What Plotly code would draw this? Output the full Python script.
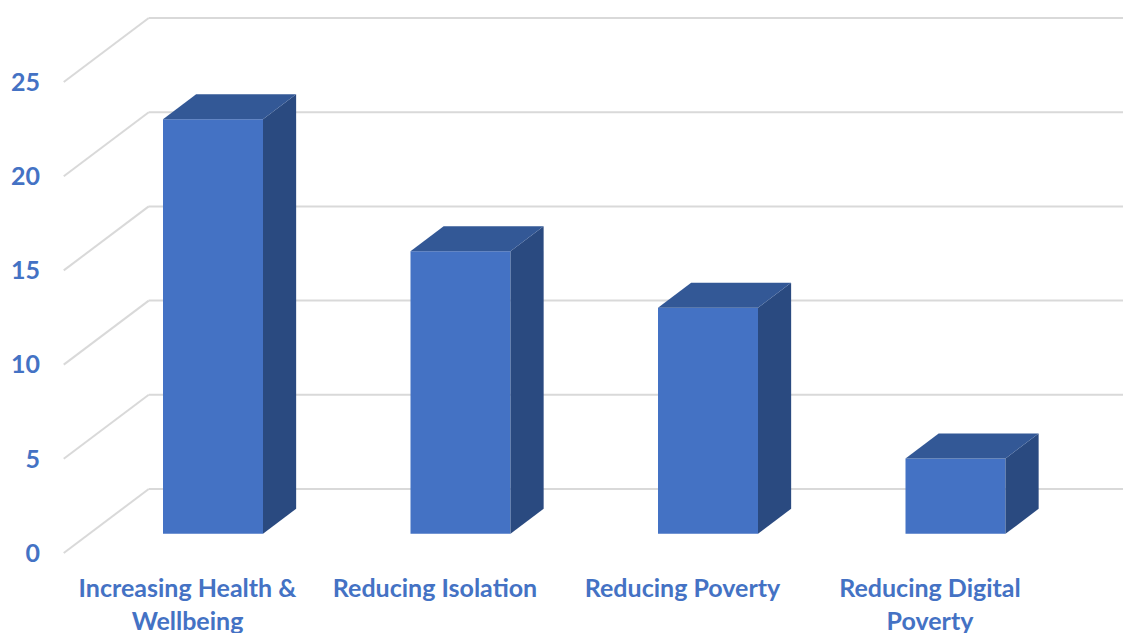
import plotly.graph_objects as go

# ---- data ----
categories = ["Increasing Health &<br>Wellbeing", "Reducing Isolation",
              "Reducing Poverty", "Reducing Digital<br>Poverty"]
values = [22, 15, 12, 4]
y_ticks = [0, 5, 10, 15, 20, 25]

# ---- styling / projection ----
OFF = 8                   # page body margin before the figure
W, H = 1131 - OFF, 633 - OFF
ML, MR, MT, MB = 33, 0, 0, 62
PX_PER_CAT = 247.5        # pixels per category
PX_PER_VAL = 18.84        # pixels per value unit
CAT0_PX = 187.5 - OFF     # front-plane pixel x of first category
ZERO_PX = 553.0 - OFF     # front-plane pixel y of value 0
DX = 85 / PX_PER_CAT      # full depth shift (x units)
DY = 64 / PX_PER_VAL      # full depth shift (value units)
D0, D1 = 0.30, 0.69       # bar front/back depth fraction
BW = 100 / PX_PER_CAT     # bar width

xr = [(ML - CAT0_PX) / PX_PER_CAT, (W - MR - CAT0_PX) / PX_PER_CAT]
yr = [(ZERO_PX - (H - MB)) / PX_PER_VAL, (ZERO_PX - MT) / PX_PER_VAL]

FRONT = "#4472C4"
TOP = "#335896"
SIDE = "#2A4A80"
GRID = "#D9D9D9"
TXT = "#4472C4"
FONT = dict(family="Lato", size=25, color=TXT, weight="bold")

fig = go.Figure()

# gridlines: side wall diagonals + back wall horizontals
x_left = -0.5
x_right = len(categories) - 0.5
shapes = []
for t in y_ticks:
    shapes.append(dict(type="line", xref="x", yref="y", layer="below",
                       x0=x_left, y0=t, x1=x_left + DX, y1=t + DY,
                       line=dict(color=GRID, width=2)))
    shapes.append(dict(type="line", xref="x", yref="y", layer="below",
                       x0=x_left + DX, y0=t + DY, x1=x_right + DX, y1=t + DY,
                       line=dict(color=GRID, width=2)))

# bars (front faces)
cx = [i + D0 * DX for i in range(len(values))]
fig.add_trace(go.Bar(x=cx, y=values, base=D0 * DY, width=BW,
                     marker=dict(color=FRONT, line=dict(width=0)),
                     hoverinfo="skip", showlegend=False))

# side and top faces
ddx = (D1 - D0) * DX
for c, v in zip(cx, values):
    xl, xr_ = c - BW / 2, c + BW / 2
    yb, yt = D0 * DY, v + D0 * DY
    fig.add_trace(go.Scatter(
        x=[xr_, xr_ + ddx, xr_ + ddx, xr_, xr_],
        y=[yb, D1 * DY, v + D1 * DY, yt, yb],
        fill="toself", fillcolor=SIDE, mode="lines", line=dict(width=0, color=SIDE),
        hoverinfo="skip", showlegend=False))
    fig.add_trace(go.Scatter(
        x=[xl, xr_, xr_ + ddx, xl + ddx, xl],
        y=[yt, yt, v + D1 * DY, v + D1 * DY, yt],
        fill="toself", fillcolor=TOP, mode="lines", line=dict(width=0, color=TOP),
        hoverinfo="skip", showlegend=False))

fig.update_layout(
    width=W, height=H,
    margin=dict(l=ML, r=MR, t=MT, b=MB, autoexpand=False),
    paper_bgcolor="white", plot_bgcolor="white",
    shapes=shapes,
    xaxis=dict(range=xr, showgrid=False, zeroline=False, showline=False,
               automargin=False,
               tickmode="array", tickvals=list(range(len(categories))),
               ticktext=categories, ticks="", tickfont=FONT,
               ticklabelstandoff=0, fixedrange=True),
    yaxis=dict(range=yr, showgrid=False, zeroline=False, showline=False,
               automargin=False,
               tickmode="array", tickvals=y_ticks, ticks="", tickfont=FONT,
               fixedrange=True),
)

fig.write_html("out.html")
